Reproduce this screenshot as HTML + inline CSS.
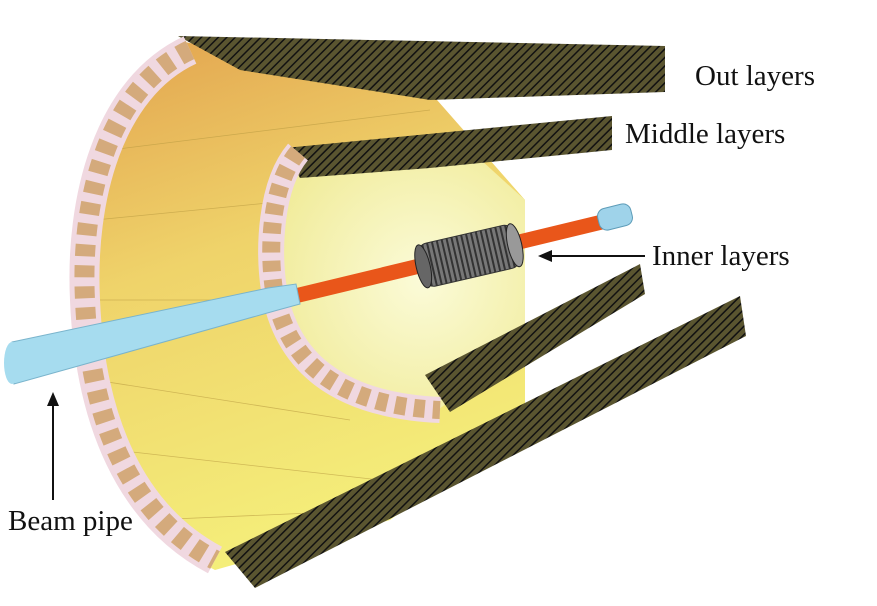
<!DOCTYPE html>
<html><head><meta charset="utf-8"><style>
html,body{margin:0;padding:0;background:#fff;width:877px;height:606px;overflow:hidden}
svg{display:block}
text{font-family:"Liberation Serif",serif;font-size:29px;fill:#111}
</style></head><body>
<svg width="877" height="606" viewBox="0 0 877 606" xmlns="http://www.w3.org/2000/svg">
<defs>
<linearGradient id="yel" x1="0" y1="0" x2="0.3" y2="1">
<stop offset="0" stop-color="#e2a24e"/><stop offset="0.45" stop-color="#efd36a"/><stop offset="1" stop-color="#f4ee7a"/>
</linearGradient>
<radialGradient id="pale" cx="0.6" cy="0.5" r="0.6">
<stop offset="0" stop-color="#fbfbd8"/><stop offset="1" stop-color="#f1ec9c"/>
</radialGradient>
<pattern id="hatch" width="6" height="6" patternUnits="userSpaceOnUse" patternTransform="rotate(45)">
<rect width="6" height="6" fill="#5a5530"/><line x1="0" y1="0" x2="0" y2="6" stroke="#111" stroke-width="3"/>
</pattern>
<pattern id="det" width="5" height="5" patternUnits="userSpaceOnUse">
<rect width="5" height="5" fill="#777"/><rect width="2" height="5" fill="#333"/>
</pattern>
</defs>
<path d="M185,42 L430,92 L525,200 L525,420 L390,520 L215,570 C120,520 80,420 75,300 C70,200 100,80 185,42 Z" fill="url(#yel)"/>
<g stroke="#b89a40" stroke-width="0.8" opacity="0.6">
<line x1="110" y1="150" x2="430" y2="110"/><line x1="95" y1="220" x2="400" y2="190"/><line x1="90" y1="300" x2="300" y2="300"/>
<line x1="95" y1="380" x2="350" y2="420"/><line x1="115" y1="450" x2="380" y2="480"/><line x1="150" y1="520" x2="380" y2="510"/>
</g>
<polygon points="178,36 665,46 665,92 430,100 240,70" fill="url(#hatch)"/>
<polygon points="225,552 740,296 746,336 255,588" fill="url(#hatch)"/>
<path d="M300,160 L470,150 L525,200 L525,360 L470,385 L438,410 C330,405 282,360 270,290 C264,250 270,185 300,160 Z" fill="url(#pale)"/>
<polygon points="285,148 612,116 612,150 430,168 300,178" fill="url(#hatch)"/>
<polygon points="425,375 640,264 645,294 450,412" fill="url(#hatch)"/>
<path d="M190,50 C108,88 80,200 85,300 C90,420 130,515 215,560" fill="none" stroke="#f0d8e0" stroke-width="30"/>
<path d="M190,50 C108,88 80,200 85,300 C90,420 130,515 215,560" fill="none" stroke="#d4aa7c" stroke-width="20" stroke-dasharray="12 9"/>
<path d="M298,152 C270,185 268,250 274,290 C286,360 335,405 440,410" fill="none" stroke="#f0d8e0" stroke-width="26"/>
<path d="M298,152 C270,185 268,250 274,290 C286,360 335,405 440,410" fill="none" stroke="#d4aa7c" stroke-width="18" stroke-dasharray="11 8"/>
<line x1="295" y1="296" x2="602" y2="222" stroke="#e9561a" stroke-width="15"/>
<polygon points="12,342 268,288 296,284 300,304 278,310 14,384" fill="#a6dcef" stroke="#7ab4cc" stroke-width="1"/>
<ellipse cx="12" cy="363" rx="8" ry="21" fill="#a6dcef"/>
<rect x="598" y="206" width="34" height="22" rx="8" fill="#9fd3ea" stroke="#5d9cb8" transform="rotate(-14 615 217)"/>
<g transform="rotate(-13 468 256)">
<rect x="420" y="234" width="98" height="44" rx="10" fill="url(#det)" stroke="#333"/>
<ellipse cx="422" cy="256" rx="7" ry="22" fill="#666" stroke="#222"/>
<ellipse cx="516" cy="256" rx="7" ry="22" fill="#999" stroke="#222"/>
</g>
<text x="695" y="85">Out layers</text>
<text x="625" y="143">Middle layers</text>
<text x="652" y="265">Inner layers</text>
<line x1="645" y1="256" x2="545" y2="256" stroke="#111" stroke-width="2"/>
<polygon points="538,256 552,250 552,262" fill="#111"/>
<line x1="53" y1="500" x2="53" y2="400" stroke="#111" stroke-width="2"/>
<polygon points="53,392 47,406 59,406" fill="#111"/>
<text x="8" y="530">Beam pipe</text>
</svg>
</body></html>
